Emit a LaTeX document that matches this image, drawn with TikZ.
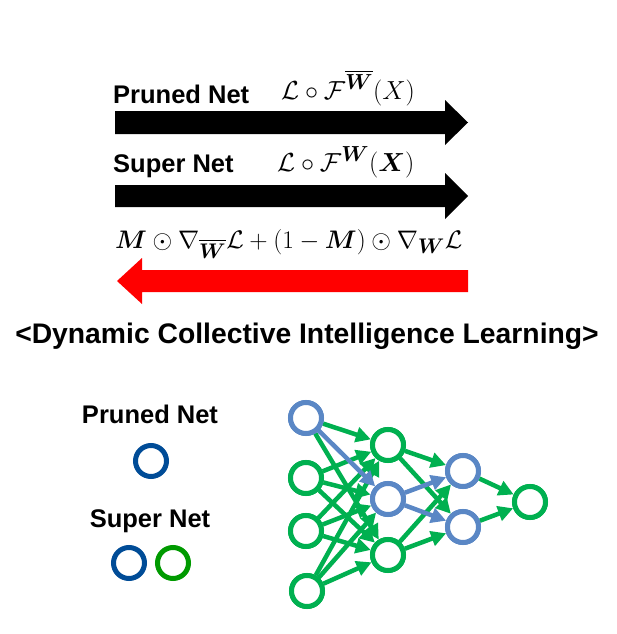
\documentclass[tikz,border=0pt]{standalone}
\usepackage{amsmath}
\usepackage{bm}
\usepackage{graphicx}
\usepackage{fontspec}
\newfontfamily\arialfam{Liberation Sans}
\usetikzlibrary{arrows.meta}
\definecolor{ngreen}{HTML}{00B050}
\definecolor{nblue}{HTML}{5A87C5}
\definecolor{lblue}{HTML}{004C97}
\definecolor{lgreen}{HTML}{009A00}
\definecolor{redarrow}{HTML}{FF0000}
\tikzset{
  lbl/.style={inner sep=0pt, font=\arialfam\bfseries\fontsize{25.5}{28}\selectfont},
  ttl/.style={inner sep=0pt, font=\arialfam\bfseries\fontsize{28.3}{32}\selectfont},
  frm/.style={inner sep=0pt, font=\fontsize{24.88}{28}\selectfont},
  neuron/.style={circle, draw=ngreen, line width=5pt, fill=white, minimum size=31pt, inner sep=0pt},
  bneuron/.style={neuron, draw=nblue},
  ge/.style={draw=ngreen, line width=4.5pt, -{Triangle[length=15pt,width=15pt]}},
  be/.style={draw=nblue, line width=4.5pt, -{Triangle[length=15pt,width=15pt]}},
  legc/.style={circle, line width=5pt, minimum size=31pt, inner sep=0pt},
}
\begin{document}
\begin{tikzpicture}[x=1pt,y=-1pt]
\useasboundingbox (0,0) rectangle (616,634);
\fill[white] (0,0) rectangle (616,634);

% top arrows
\fill[black] (115,111) -- (445,111) -- (445,100) -- (468,122.5) -- (445,145) -- (445,134) -- (115,134) -- cycle;
\fill[black] (115,185) -- (445,185) -- (445,173) -- (468,196) -- (445,219) -- (445,207) -- (115,207) -- cycle;
\fill[redarrow] (468,270) -- (142,270) -- (142,258) -- (117,281) -- (142,304) -- (142,292) -- (468,292) -- cycle;

\node[lbl, anchor=base west] (pnlbl) at (113,103) {Pruned Net};
\node[lbl, anchor=base west] (snlbl) at (113,172) {Super Net};
\node[frm, anchor=base west] (f1) at (281,99) {\scalebox{1.05}{$\mathcal{L}\circ\mathcal{F}^{\overline{\bm{W}}}(X)$}};
\node[frm, anchor=base west] (f2) at (277,171) {\scalebox{1.05}{$\mathcal{L}\circ\mathcal{F}^{\bm{W}}(\bm{X})$}};
\node[frm, anchor=base west] (f3) at (115,248) {\scalebox{1.02}{$\bm{M}\odot\nabla_{\overline{\bm{W}}}\mathcal{L}+(1-\bm{M})\odot\nabla_{\bm{W}}\mathcal{L}$}};

\node[ttl, anchor=base] (title) at (307,343) {<Dynamic Collective Intelligence Learning>};

% legend
\node[lbl, anchor=base] (lpn) at (150,423) {Pruned Net};
\node[legc, draw=lblue] (lc1) at (151,461) {};
\node[lbl, anchor=base] (lsn) at (150,527) {Super Net};
\node[legc, draw=lblue] (lc2) at (129,563) {};
\node[legc, draw=lgreen] (lc3) at (173,563) {};

% network
\node[bneuron] (i1) at (306,418) {};
\node[neuron] (i2) at (306,478) {};
\node[neuron] (i3) at (306,531) {};
\node[neuron] (i4) at (307,591) {};
\node[neuron] (h1) at (388,445) {};
\node[bneuron] (h2) at (388,499) {};
\node[neuron] (h3) at (388,555) {};
\node[bneuron] (g1) at (463,471) {};
\node[bneuron] (g2) at (463,527) {};
\node[neuron] (o) at (530,502) {};

\draw[ge] (i1) -- (h1);
\draw[ge] (i1) -- (h3);
\foreach \s in {i2,i3,i4}{
  \foreach \t in {h1,h2,h3}{
    \draw[ge] (\s) -- (\t);
  }
}
\draw[ge] (h1) -- (g1);
\draw[ge] (h1) -- (g2);
\draw[ge] (h3) -- (g1);
\draw[ge] (h3) -- (g2);
\draw[ge] (g1) -- (o);
\draw[ge] (g2) -- (o);
\draw[be] (i1) -- (h2);
\draw[be] (h2) -- (g1);
\draw[be] (h2) -- (g2);

% redraw nodes on top
\node[bneuron] at (i1) {};
\node[neuron] at (i2) {};
\node[neuron] at (i3) {};
\node[neuron] at (i4) {};
\node[neuron] at (h1) {};
\node[bneuron] at (h2) {};
\node[neuron] at (h3) {};
\node[bneuron] at (g1) {};
\node[bneuron] at (g2) {};
\node[neuron] at (o) {};
\end{tikzpicture}
\end{document}
